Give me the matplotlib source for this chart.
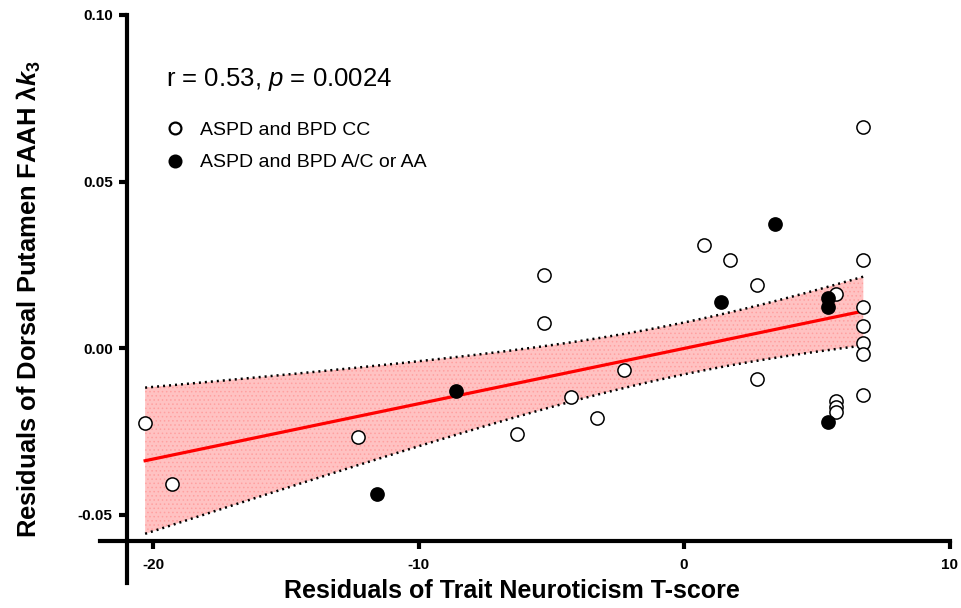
import numpy as np
import matplotlib
matplotlib.use("Agg")
import matplotlib.pyplot as plt
from matplotlib.lines import Line2D

plt.rcParams['font.family'] = ['Liberation Sans', 'DejaVu Sans']
plt.rcParams['mathtext.fontset'] = 'custom'
plt.rcParams['mathtext.rm'] = 'Liberation Sans'
plt.rcParams['mathtext.it'] = 'Liberation Sans:italic'
plt.rcParams['mathtext.bf'] = 'Liberation Sans:bold'
plt.rcParams['mathtext.bfit'] = 'Liberation Sans:italic:bold'
plt.rcParams['hatch.color'] = '#ff9c9c'
plt.rcParams['hatch.linewidth'] = 0.6

# Data: ASPD and BPD CC (open circles)
cc_x = [-20.3, -19.3, -12.3, -6.3, -5.27, -5.27, -4.26, -3.28, -2.26, 0.75, 1.73,
        2.75, 2.75, 5.72, 5.72, 5.72, 5.72, 6.75, 6.75, 6.75, 6.75, 6.75, 6.75, 6.75]
cc_y = [-0.0225, -0.0408, -0.0267, -0.0258, 0.0219, 0.0075, -0.0147, -0.0210, -0.0066, 0.0309, 0.0264,
        0.0189, -0.0093, 0.0162, -0.0159, -0.0177, -0.0192, 0.0663, 0.0264, 0.0123, 0.0066, 0.0015, -0.0018, -0.0141]
# Data: ASPD and BPD A/C or AA (filled circles)
ac_x = [-11.56, -8.59, 1.39, 3.43, 5.42, 5.42, 5.42]
ac_y = [-0.0438, -0.0129, 0.0138, 0.0372, 0.0150, 0.0123, -0.0222]

x_ticks = [-20, -10, 0, 10]
y_ticks = [-0.05, 0.00, 0.05, 0.10]
y_ticklabels = ['-0.05', '0.00', '0.05', '0.10']

# Linear regression with 95% confidence band
X = np.array(cc_x + ac_x)
Y = np.array(cc_y + ac_y)
n = len(X)
b1, b0 = np.polyfit(X, Y, 1)
resid = Y - (b0 + b1 * X)
s = np.sqrt(np.sum(resid**2) / (n - 2))
xm = X.mean()
sxx = np.sum((X - xm)**2)
tval = 2.045
xs = np.linspace(X.min(), X.max(), 200)
yfit = b0 + b1 * xs
se = s * np.sqrt(1.0 / n + (xs - xm)**2 / sxx)
lo = yfit - tval * se
hi = yfit + tval * se

fig = plt.figure(figsize=(9.62, 6.08), dpi=100)
ax = fig.add_axes([100/962, 25/608, 849.6/962, 568/608])
ax.set_xlim(-22.0, 10.0)
ax.set_ylim(-0.0705, 0.10)

ax.fill_between(xs, lo, hi, facecolor='#ffc2c2', edgecolor='#ffa0a0', hatch='....', linewidth=0, zorder=1)
ax.plot(xs, hi, color='black', lw=1.8, ls=(0, (0.8, 1.6)), zorder=2)
ax.plot(xs, lo, color='black', lw=1.8, ls=(0, (0.8, 1.6)), zorder=2)
ax.plot(xs, yfit, color='#ff0000', lw=2.3, zorder=3)

ax.plot(cc_x, cc_y, 'o', ms=9.5, mfc='white', mec='black', mew=1.1, ls='none', zorder=4)
ax.plot(ac_x, ac_y, 'o', ms=9.5, mfc='black', mec='black', mew=1.1, ls='none', zorder=5)

for sp in ['top', 'right']:
    ax.spines[sp].set_visible(False)
ax.spines['left'].set_position(('data', -21.0))
ax.spines['bottom'].set_position(('data', -0.0579))
ax.spines['left'].set_linewidth(3.0)
ax.spines['bottom'].set_linewidth(3.0)
ax.spines['left'].set_bounds(-0.0705, 0.10)
ax.spines['bottom'].set_bounds(-22.0, 10.0)

ax.set_xticks(x_ticks)
ax.set_xticklabels([str(t) for t in x_ticks], fontsize=11, fontweight='bold')
ax.set_yticks(y_ticks)
ax.set_yticklabels(y_ticklabels, fontsize=11, fontweight='bold')
ax.tick_params(axis='both', direction='out', length=6, width=3.0)
ax.tick_params(axis='y', pad=4)
ax.tick_params(axis='x', pad=6)

ax.set_xlabel('Residuals of Trait Neuroticism T-score', fontsize=18, fontweight='bold')
ax.xaxis.set_label_coords((512 - 100) / 849.6, -(603 - 583) / 568)
ax.xaxis.label.set_va('bottom')
ax.set_ylabel(r'Residuals of Dorsal Putamen FAAH λ$\mathbfit{k}_{\mathbf{3}}$', fontsize=18.4, fontweight='bold')
ax.yaxis.set_label_coords(-(100 - 15) / 849.6, (608 - 299 - 25) / 568)
ax.yaxis.label.set_va('top')

ax.text(-19.5, 0.0805, r'r = 0.53, $p$ = 0.0024', fontsize=18.5, ha='left', va='center')

handles = [Line2D([], [], marker='o', ls='none', ms=8.5, mfc='white', mec='black', mew=1.6),
           Line2D([], [], marker='o', ls='none', ms=8.5, mfc='black', mec='black', mew=1.6)]
ax.legend(handles, ['ASPD and BPD CC', 'ASPD and BPD A/C or AA'], loc='upper left',
          bbox_to_anchor=((163 - 100) / 849.6, (608 - 25 - 121) / 568), frameon=False,
          fontsize=14, handletextpad=0.7, labelspacing=0.78, borderaxespad=0, borderpad=0,
          handlelength=1.2)

fig.savefig('out.png', dpi=100)
